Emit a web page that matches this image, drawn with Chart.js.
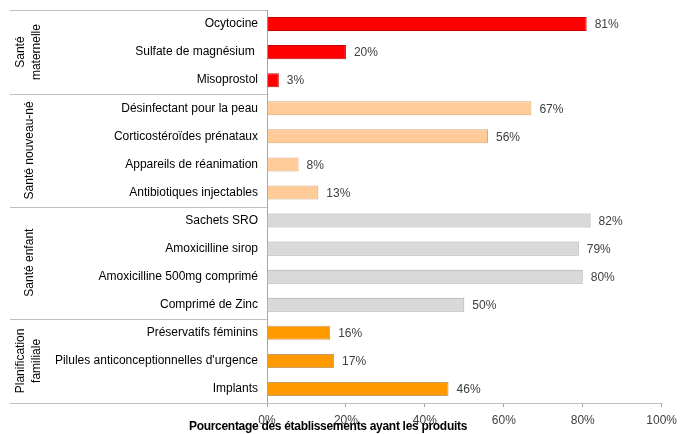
<!DOCTYPE html>
<html>
<head>
<meta charset="utf-8">
<script src="https://cdn.jsdelivr.net/npm/chart.js@4"></script>
<style>
  html, body { margin: 0; padding: 0; background: #fff; }
  #wrap { width: 683px; height: 434px; position: relative; }
</style>
</head>
<body>
<div id="wrap"><canvas id="chart"></canvas></div>
<script>
const products = [
    'Ocytocine', 'Sulfate de magnésium ', 'Misoprostol',
    'Désinfectant pour la peau', 'Corticostéroïdes prénataux', 'Appareils de réanimation', 'Antibiotiques injectables',
    'Sachets SRO', 'Amoxicilline sirop', 'Amoxicilline 500mg comprimé', 'Comprimé de Zinc',
    'Préservatifs féminins', "Pilules anticonceptionnelles d'urgence", 'Implants'
];
const percents = [81, 20, 3, 67, 56, 8, 13, 82, 79, 80, 50, 16, 17, 46];

// groups: label lines + how many products each one covers
const groupNames = [['Santé', 'maternelle'], ['Santé nouveau-né'], ['Santé enfant'], ['Planification', 'familiale']];
const groupSizes = [3, 4, 4, 3];
const groupColors = ['#FF0000', '#FFCC99', '#D9D9D9', '#FF9900'];
const groupBorders = ['#D00000', '#D8A878', '#A6A6A6', '#C8A060'];

const xTicks = [0, 20, 40, 60, 80, 100];
const xTitle = 'Pourcentage des établissements ayant les produits';

const FONT = '"Liberation Sans Narrow", "Liberation Sans", Arial, sans-serif';

// spread group colors across bars
let barColors = [], barBorders = [];
groupSizes.forEach((n, g) => {
    for (let i = 0; i < n; i++) {
        barColors.push(groupColors[g]);
        barBorders.push(groupBorders[g]);
    }
});

const extras = {
    id: 'extras',
    afterDatasetsDraw(chart) {
        const ctx = chart.ctx;
        const area = chart.chartArea;
        const rowH = (area.bottom - area.top) / products.length;

        ctx.save();
        // value labels
        ctx.font = '12px ' + FONT;
        ctx.fillStyle = '#404040';
        ctx.textAlign = 'left';
        ctx.textBaseline = 'middle';
        chart.getDatasetMeta(0).data.forEach((bar, i) => {
            ctx.fillText(percents[i] + '%', bar.x + 8, bar.y + 1);
        });

        // separators, top and bottom lines
        ctx.strokeStyle = '#BFBFBF';
        ctx.lineWidth = 1;
        ctx.beginPath();
        ctx.moveTo(10, area.top + 0.5);
        ctx.lineTo(area.left, area.top + 0.5);
        let idx = 0;
        groupSizes.forEach((n, g) => {
            idx += n;
            const y = Math.round(area.top + idx * rowH) + 0.5;
            ctx.moveTo(10, y);
            ctx.lineTo(g === groupSizes.length - 1 ? area.right : area.left, y);
        });
        ctx.stroke();

        // group names, rotated
        ctx.fillStyle = '#000';
        ctx.font = '12px ' + FONT;
        ctx.textAlign = 'center';
        idx = 0;
        groupSizes.forEach((n, g) => {
            const cy = area.top + (idx + n / 2) * rowH;
            idx += n;
            const lines = groupNames[g];
            lines.forEach((line, j) => {
                const cx = lines.length === 1 ? 30 : 21 + j * 16;
                ctx.save();
                ctx.translate(cx, cy);
                ctx.rotate(-Math.PI / 2);
                ctx.fillText(line, 0, 0);
                ctx.restore();
            });
        });

        // axis title
        ctx.font = 'bold 12px ' + FONT;
        ctx.letterSpacing = '-0.3px';
        ctx.fillStyle = '#000';
        ctx.textAlign = 'center';
        ctx.fillText(xTitle, 328, 427);
        ctx.restore();
    }
};

new Chart(document.getElementById('chart'), {
    type: 'bar',
    data: {
        labels: products,
        datasets: [{
            data: percents,
            backgroundColor: barColors,
            borderColor: barBorders,
            borderWidth: 1,
            borderSkipped: 'start',
            barPercentage: 0.5,
            categoryPercentage: 1
        }]
    },
    options: {
        indexAxis: 'y',
        responsive: true,
        maintainAspectRatio: false,
        animation: false,
        layout: { padding: { top: 10, right: 18, left: 0, bottom: 0 } },
        plugins: {
            legend: { display: false },
            tooltip: { enabled: false }
        },
        scales: {
            x: {
                min: 0,
                max: 100,
                afterBuildTicks: (scale) => { scale.ticks = xTicks.map(v => ({ value: v })); },
                afterFit: (scale) => { scale.height = 31; },
                border: { display: false },
                grid: { drawOnChartArea: false, drawTicks: true, tickLength: 4, color: '#A6A6A6' },
                ticks: {
                    padding: 6,
                    color: '#404040',
                    font: { family: FONT, size: 12 },
                    callback: (v) => v + '%'
                }
            },
            y: {
                afterFit: (scale) => {
                    scale.width = 267;
                    scale.paddingTop = 0;
                    scale.paddingBottom = 0;
                },
                border: { display: true, color: '#A6A6A6' },
                grid: { display: false, drawTicks: false },
                ticks: {
                    padding: 9,
                    color: '#000',
                    font: { family: FONT, size: 12 }
                }
            }
        }
    },
    plugins: [extras]
});
</script>
</body>
</html>
